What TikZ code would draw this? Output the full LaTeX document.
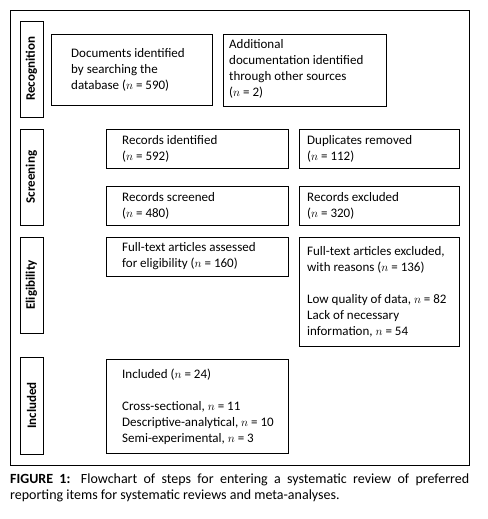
\documentclass[tikz,border=0pt]{standalone}
\usepackage{fontspec}
\setmainfont{Carlito}
\begin{document}
\begin{tikzpicture}[x=1pt,y=-1pt,
  box/.style={draw,line width=0.8pt,anchor=north west,inner sep=0pt},
  txt/.style={anchor=west,align=left,inner sep=0pt,
    font=\fontsize{13}{16}\selectfont},
  side/.style={draw,line width=0.8pt,rotate=90,minimum height=23pt,inner sep=0pt,
    font=\fontsize{13}{16}\selectfont\bfseries},
  frame/.style={draw,line width=0.8pt}]
\useasboundingbox (0,0) rectangle (487,519);
\draw[frame] (10,10) rectangle (469,465);
% side labels
\node[side,minimum width=96pt] (rec) at (31.5,69) {Recognition};
\node[side,minimum width=96pt] (scr) at (31.5,177) {Screening};
\node[side,minimum width=96pt] (eli) at (31.5,285) {Eligibility};
\node[side,minimum width=97pt] (inc) at (31.5,405.5) {Included};
% recognition
\node[box,minimum width=161pt,minimum height=71pt] (db) at (51,34) {};
\node[txt] (dbt) at ([xshift=20pt]db.west)
  {Documents identified\\by searching the\\database ($n$ = 590)};
\node[box,minimum width=163pt,minimum height=72pt] (oth) at (223,34) {};
\node[txt] (otht) at ([xshift=6pt,yshift=1.5pt]oth.west)
  {Additional\\documentation identified\\through other sources\\($n$ = 2)};
% screening
\node[box,minimum width=182pt,minimum height=39pt] (rid) at (106,129) {};
\node[txt] (ridt) at ([xshift=16pt]rid.west) {Records identified\\($n$ = 592)};
\node[box,minimum width=160pt,minimum height=39pt] (dup) at (299,129) {};
\node[txt] (dupt) at ([xshift=8pt]dup.west) {Duplicates removed\\($n$ = 112)};
\node[box,minimum width=182pt,minimum height=39pt] (rsc) at (106,186) {};
\node[txt] (rsct) at ([xshift=16pt]rsc.west) {Records screened\\($n$ = 480)};
\node[box,minimum width=160pt,minimum height=39pt] (rex) at (299,186) {};
\node[txt] (rext) at ([xshift=8pt]rex.west) {Records excluded\\($n$ = 320)};
% eligibility
\node[box,minimum width=182pt,minimum height=39pt] (fta) at (106,237) {};
\node[txt] (ftat) at ([xshift=16pt,yshift=1pt]fta.west)
  {Full-text articles assessed\\for eligibility ($n$ = 160)};
\node[box,minimum width=160pt,minimum height=109pt] (fte) at (299,237) {};
\node[txt] (ftet) at ([xshift=8pt]fte.west)
  {Full-text articles excluded,\\with reasons ($n$ = 136)\\[16pt]Low quality of data, $n$ = 82\\Lack of necessary\\information, $n$ = 54};
% included
\node[box,minimum width=182pt,minimum height=94pt] (incl) at (106,359) {};
\node[txt] (inclt) at ([xshift=16pt]incl.west)
  {Included ($n$ = 24)\\[16pt]Cross-sectional, $n$ = 11\\Descriptive-analytical, $n$ = 10\\Semi-experimental, $n$ = 3};
% caption
\node[anchor=north west,inner sep=0pt,text width=459pt,align=justify,
  font=\fontsize{14}{16}\selectfont] (cap) at (10,474)
  {\textbf{FIGURE 1:} Flowchart of steps for entering a systematic review of preferred \mbox{reporting} items for systematic reviews and \mbox{meta-analyses.}};
\end{tikzpicture}
\end{document}
